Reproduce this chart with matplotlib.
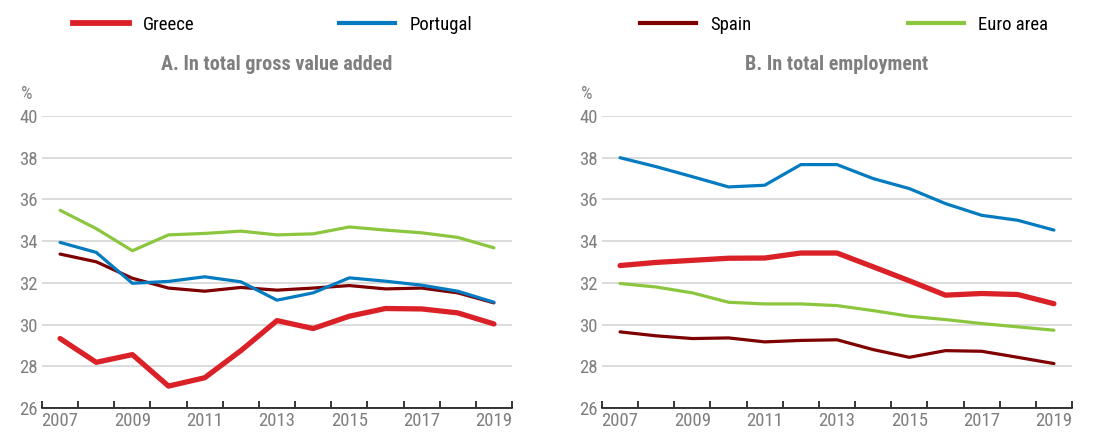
import matplotlib
matplotlib.use("Agg")
import matplotlib.pyplot as plt
from matplotlib.lines import Line2D
import numpy as np
import logging
logging.getLogger('matplotlib.font_manager').setLevel(logging.ERROR)

years = [2007, 2008, 2009, 2010, 2011, 2012, 2013, 2014, 2015, 2016, 2017, 2018, 2019]

# Panel A: In total gross value added
gva_greece = [29.33, 28.19, 28.56, 27.05, 27.45, 28.75, 30.19, 29.81, 30.40, 30.77, 30.75, 30.56, 30.03]
gva_portugal = [33.94, 33.46, 31.98, 32.07, 32.29, 32.05, 31.17, 31.52, 32.24, 32.08, 31.89, 31.60, 31.07]
gva_spain = [33.38, 33.01, 32.22, 31.75, 31.60, 31.78, 31.65, 31.75, 31.87, 31.71, 31.75, 31.52, 31.04]
gva_euro = [35.48, 34.60, 33.54, 34.30, 34.37, 34.48, 34.30, 34.35, 34.68, 34.53, 34.40, 34.18, 33.68]

# Panel B: In total employment
emp_greece = [32.83, 32.98, 33.08, 33.18, 33.19, 33.43, 33.43, 32.77, 32.10, 31.41, 31.49, 31.44, 31.00]
emp_portugal = [38.00, 37.57, 37.09, 36.60, 36.68, 37.67, 37.67, 37.00, 36.52, 35.80, 35.24, 35.00, 34.53]
emp_spain = [29.65, 29.46, 29.33, 29.36, 29.17, 29.24, 29.27, 28.80, 28.43, 28.75, 28.72, 28.43, 28.13]
emp_euro = [31.97, 31.80, 31.52, 31.07, 30.99, 30.99, 30.91, 30.67, 30.40, 30.24, 30.05, 29.89, 29.73]

series_names = ["Greece", "Portugal", "Spain", "Euro area"]
panel_titles = ["A. In total gross value added", "B. In total employment"]

colors = {"Greece": "#DA2128", "Portugal": "#037BC1", "Spain": "#7F0000", "Euro area": "#8CC63F"}
widths = {"Greece": 3.8, "Portugal": 2.3, "Spain": 2.3, "Euro area": 2.3}
legend_widths = {"Greece": 4.2, "Portugal": 3.0, "Spain": 3.0, "Euro area": 3.0}

plt.rcParams['font.family'] = ['Liberation Sans Narrow', 'Arial Narrow', 'Roboto Condensed',
                               'Archivo Narrow', 'PT Sans Narrow', 'Liberation Sans', 'DejaVu Sans']

fig = plt.figure(figsize=(10.98, 4.32), dpi=100)
axA = fig.add_axes([42/1098, 1-408/432, 470/1098, 292/432])
axB = fig.add_axes([602/1098, 1-408/432, 470/1098, 292/432])

gray = "#7F7F7F"
x = np.arange(len(years))
data = [
    {"Euro area": gva_euro, "Spain": gva_spain, "Portugal": gva_portugal, "Greece": gva_greece},
    {"Euro area": emp_euro, "Spain": emp_spain, "Portugal": emp_portugal, "Greece": emp_greece},
]
for ax, d, title in zip([axA, axB], data, panel_titles):
    for name in ["Euro area", "Spain", "Portugal", "Greece"]:
        ax.plot(x, d[name], color=colors[name], lw=widths[name], solid_capstyle='round', solid_joinstyle='round', zorder=3)
    ax.set_xlim(-0.5, len(years) - 0.5)
    ax.set_ylim(26, 40)
    ax.set_yticks(np.arange(26, 41, 2))
    ax.set_yticklabels([str(v) for v in range(26, 41, 2)])
    ax.yaxis.grid(True, color="#D9D9D9", lw=1.3)
    ax.set_axisbelow(True)
    ax.tick_params(axis='y', length=0, pad=3, labelsize=13.5, labelcolor=gray)
    ax.set_xticks(np.arange(-0.5, len(years), 1.0))
    ax.set_xticklabels([])
    ax.set_xticks(x[::2], minor=True)
    ax.set_xticklabels([str(y) for y in years[::2]], minor=True)
    ax.tick_params(axis='x', which='major', direction='in', length=5, width=1.1, color='black')
    ax.tick_params(axis='x', which='minor', length=0, pad=3, labelsize=13.5, labelcolor=gray)
    for s in ['top', 'right', 'left']:
        ax.spines[s].set_visible(False)
    ax.spines['bottom'].set_color('black')
    ax.spines['bottom'].set_linewidth(1.1)
    ax.set_title(title, fontsize=14.5, fontweight='bold', color=gray, pad=33)
    ax.text(-0.033, 1.045, "%", transform=ax.transAxes, ha='center', va='bottom', fontsize=13, color=gray)

# Legend across top: one entry per anchor (left edge of the key line in pixels)
legend_left_px = [73, 339, 640, 908]
for name, lx in zip(series_names, legend_left_px):
    h = Line2D([0], [0], color=colors[name], lw=legend_widths[name])
    fig.legend([h], [name], loc='center left', bbox_to_anchor=(lx/1098, 1-25/432),
               frameon=False, fontsize=13.5, handlelength=3.0, handletextpad=0.75,
               borderpad=0, borderaxespad=0)

fig.savefig("out.png", dpi=100)
